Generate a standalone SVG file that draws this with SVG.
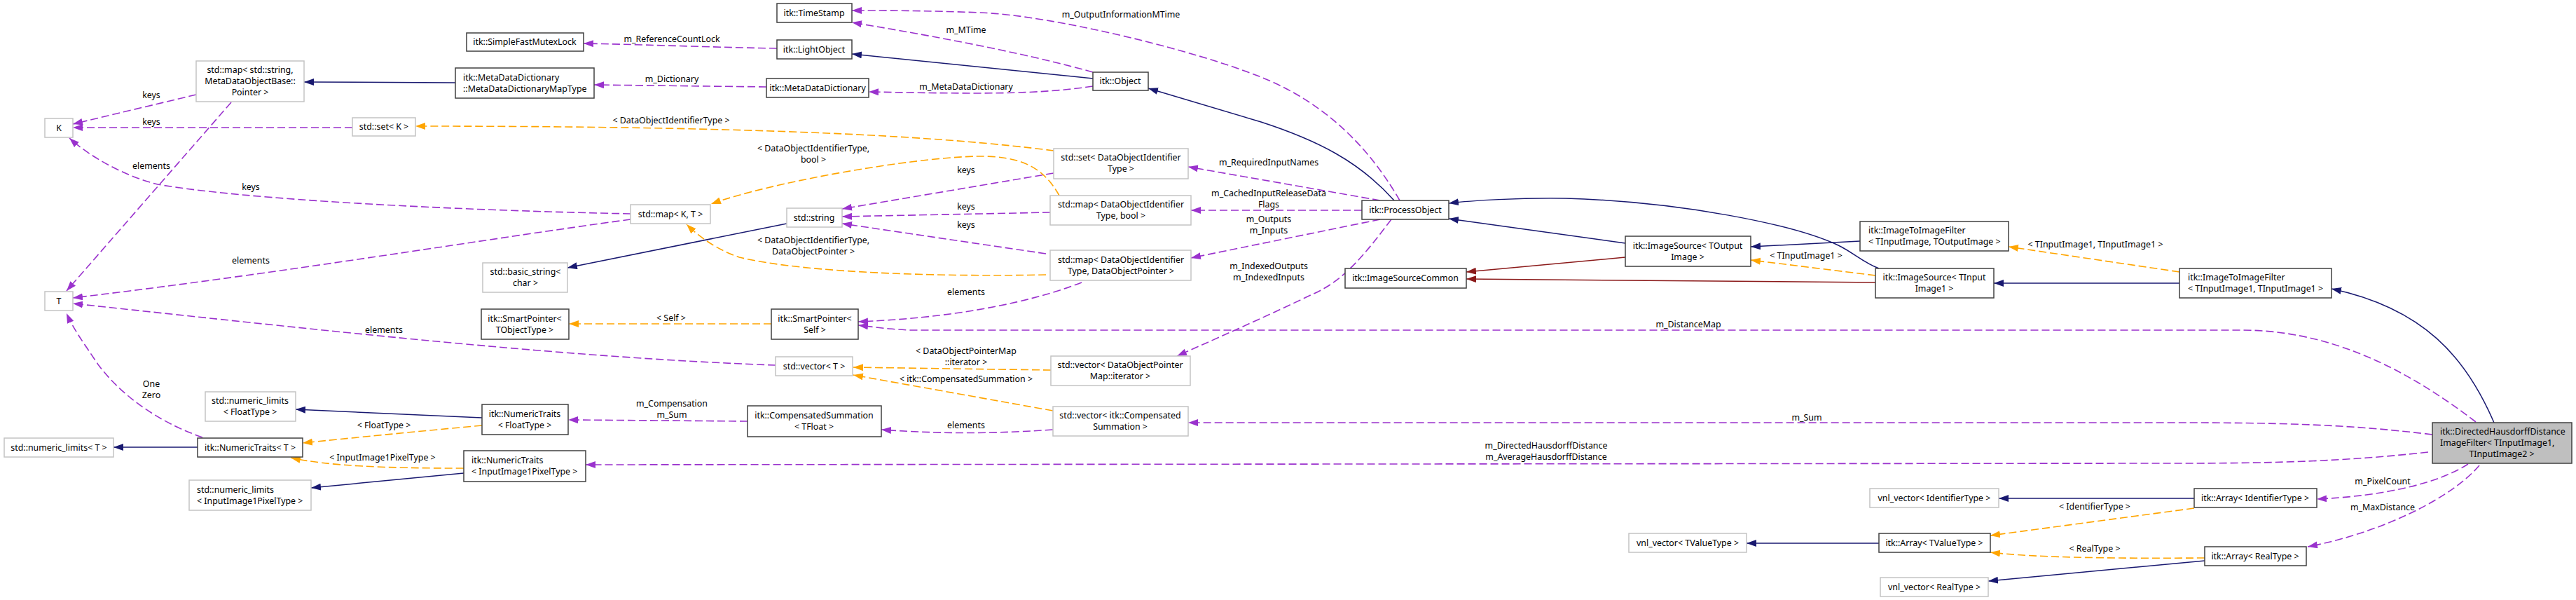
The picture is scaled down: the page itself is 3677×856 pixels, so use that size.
<svg xmlns="http://www.w3.org/2000/svg" width="3677" height="856" viewBox="0 0 3677 856">
<style>
text{font-family:"Noto Sans","Liberation Sans",sans-serif;font-size:12.4px;fill:#000}
.n rect{fill:#fff;stroke:#404040;stroke-width:1.5}
.g rect{fill:#fff;stroke:#c4c4c4;stroke-width:1.5}
.m rect{fill:#bfbfbf;stroke:#404040;stroke-width:1.5}
.c{text-anchor:middle}
.l{text-anchor:middle}
.u{fill:none;stroke:#9a32cd;stroke-width:1.6;stroke-dasharray:11,5;marker-end:url(#ap)}
.o{fill:none;stroke:#ffa500;stroke-width:1.6;stroke-dasharray:11,5;marker-end:url(#ao)}
.b{fill:none;stroke:#191970;stroke-width:1.5;marker-end:url(#ab)}
.r{fill:none;stroke:#8b1a1a;stroke-width:1.5;marker-end:url(#ar)}
</style>
<defs>
<marker id="ap" markerUnits="userSpaceOnUse" markerWidth="15" markerHeight="11" refX="14" refY="5" orient="auto"><path d="M0,0 L14,5 L0,10 z" fill="#9a32cd"/></marker>
<marker id="ao" markerUnits="userSpaceOnUse" markerWidth="15" markerHeight="11" refX="14" refY="5" orient="auto"><path d="M0,0 L14,5 L0,10 z" fill="#ffa500"/></marker>
<marker id="ab" markerUnits="userSpaceOnUse" markerWidth="15" markerHeight="11" refX="14" refY="5" orient="auto"><path d="M0,0 L14,5 L0,10 z" fill="#191970"/></marker>
<marker id="ar" markerUnits="userSpaceOnUse" markerWidth="15" markerHeight="11" refX="14" refY="5" orient="auto"><path d="M0,0 L14,5 L0,10 z" fill="#8b1a1a"/></marker>
</defs>
<rect width="3677" height="856" fill="#fff"/>

<g id="edges">
<!-- usage (purple) -->
<path class="u" d="M1109,69 C1000,67 900,63 833,62"/>
<path class="u" d="M1094,124 L848,121"/>
<path class="u" d="M1560,103 C1450,72 1300,46 1216,32"/>
<path class="u" d="M1998,286 C1960,220 1900,150 1800,110 C1700,70 1500,22 1400,18 C1320,15 1260,15 1216,15"/>
<path class="u" d="M1560,123 C1480,135 1400,134 1240,131"/>
<path class="u" d="M503,182 L104,182"/>
<path class="u" d="M280,135 L104,177"/>
<path class="u" d="M330,146 L95,415"/>
<path class="u" d="M900,305 C650,300 350,285 225,263 C180,252 130,225 99,197"/>
<path class="u" d="M900,313 C700,340 400,390 104,425"/>
<path class="u" d="M1107,521 C800,510 450,470 104,433"/>
<path class="u" d="M1504,247 L1202,298"/>
<path class="u" d="M1499,303 L1202,309"/>
<path class="u" d="M1493,362 L1202,319"/>
<path class="u" d="M1544,403 C1500,420 1400,452 1225,459"/>
<path class="u" d="M1970,286 L1696,238"/>
<path class="u" d="M1944,300 L1700,300"/>
<path class="u" d="M1970,313 L1700,368"/>
<path class="u" d="M1986,313 C1950,360 1920,400 1873,420 C1800,455 1720,490 1680,508"/>
<path class="u" d="M3534,602 C3440,530 3330,471 3200,471 L1300,471 C1270,470 1245,466 1225,464"/>
<path class="u" d="M1067,601 L811,599"/>
<path class="u" d="M1503,613 C1400,620 1330,618 1258,613"/>
<path class="u" d="M3472,620 C3350,605 3250,603 3100,603 L1696,603"/>
<path class="u" d="M3466,645 C3350,658 3250,661 3100,661 L836,663"/>
<path class="u" d="M3523,662 C3480,690 3400,708 3307,712"/>
<path class="u" d="M3539,664 C3500,710 3400,760 3294,780"/>
<path class="u" d="M289,624 C220,600 170,560 140,520 C120,490 105,470 95,447"/>
<!-- template (orange) -->
<path class="o" d="M1504,215 C1350,195 1100,180 593,180"/>
<path class="o" d="M1512,279 C1490,240 1460,222 1394,223 C1300,225 1100,260 1015,291"/>
<path class="o" d="M1493,392 C1350,395 1150,390 1055,367 C1020,355 995,335 980,320"/>
<path class="o" d="M1101,462 L812,462"/>
<path class="o" d="M1500,528 L1218,524"/>
<path class="o" d="M1503,586 L1218,535"/>
<path class="o" d="M688,607 C600,615 500,625 432,632"/>
<path class="o" d="M662,668 C550,668 470,665 415,653"/>
<path class="o" d="M2677,393 L2499,371"/>
<path class="o" d="M3111,388 L2867,352"/>
<path class="o" d="M3132,725 L2841,764"/>
<path class="o" d="M3147,796 C3000,797 2900,795 2841,788"/>
<!-- inheritance (navy) -->
<path class="b" d="M650,118 L434,117"/>
<path class="b" d="M1560,112 L1216,77"/>
<path class="b" d="M1990,286 C1940,230 1880,200 1800,174 L1639,126"/>
<path class="b" d="M1123,319 L810,382"/>
<path class="b" d="M2320,347 L2068,312"/>
<path class="b" d="M2655,344 L2499,352"/>
<path class="b" d="M2682,383 C2660,375 2645,360 2624,350 C2560,320 2400,288 2235,283 C2170,282 2100,286 2068,290"/>
<path class="b" d="M3111,404 L2846,404"/>
<path class="b" d="M3560,603 C3520,510 3460,440 3328,412"/>
<path class="b" d="M282,638 L162,638"/>
<path class="b" d="M688,596 L422,584"/>
<path class="b" d="M662,675 L444,696"/>
<path class="b" d="M3132,711 L2853,711"/>
<path class="b" d="M2682,775 L2493,775"/>
<path class="b" d="M3147,800 L2838,829"/>
<!-- red -->
<path class="r" d="M2320,367 L2093,388"/>
<path class="r" d="M2677,403 L2093,398"/>
</g>

<g id="edge-labels">
<text class="l" x="959" y="60">m_ReferenceCountLock</text>
<text class="l" x="959" y="117">m_Dictionary</text>
<text class="l" x="1379" y="47">m_MTime</text>
<text class="l" x="1600" y="25">m_OutputInformationMTime</text>
<text class="l" x="1379" y="128">m_MetaDataDictionary</text>
<text class="l" x="216" y="140">keys</text>
<text class="l" x="216" y="178">keys</text>
<text class="l" x="216" y="241">elements</text>
<text class="l" x="358" y="271">keys</text>
<text class="l" x="358" y="376">elements</text>
<text class="l" x="548" y="475">elements</text>
<text class="l" x="216" y="552">One</text>
<text class="l" x="216" y="568">Zero</text>
<text class="l" x="958" y="176">&lt; DataObjectIdentifierType &gt;</text>
<text class="l" x="1161" y="216">&lt; DataObjectIdentifierType,</text>
<text class="l" x="1161" y="232">bool &gt;</text>
<text class="l" x="1161" y="347">&lt; DataObjectIdentifierType,</text>
<text class="l" x="1161" y="363">DataObjectPointer &gt;</text>
<text class="l" x="1379" y="247">keys</text>
<text class="l" x="1379" y="299">keys</text>
<text class="l" x="1379" y="325">keys</text>
<text class="l" x="1379" y="421">elements</text>
<text class="l" x="1811" y="236">m_RequiredInputNames</text>
<text class="l" x="1811" y="280">m_CachedInputReleaseData</text>
<text class="l" x="1811" y="296">Flags</text>
<text class="l" x="1811" y="317">m_Outputs</text>
<text class="l" x="1811" y="333">m_Inputs</text>
<text class="l" x="1811" y="384">m_IndexedOutputs</text>
<text class="l" x="1811" y="400">m_IndexedInputs</text>
<text class="l" x="958" y="458">&lt; Self &gt;</text>
<text class="l" x="2410" y="467">m_DistanceMap</text>
<text class="l" x="1379" y="505">&lt; DataObjectPointerMap</text>
<text class="l" x="1379" y="521">::iterator &gt;</text>
<text class="l" x="1379" y="545">&lt; itk::CompensatedSummation &gt;</text>
<text class="l" x="959" y="580">m_Compensation</text>
<text class="l" x="959" y="596">m_Sum</text>
<text class="l" x="1379" y="611">elements</text>
<text class="l" x="2579" y="600">m_Sum</text>
<text class="l" x="548" y="611">&lt; FloatType &gt;</text>
<text class="l" x="546" y="657">&lt; InputImage1PixelType &gt;</text>
<text class="l" x="2207" y="640">m_DirectedHausdorffDistance</text>
<text class="l" x="2207" y="656">m_AverageHausdorffDistance</text>
<text class="l" x="2578" y="369">&lt; TInputImage1 &gt;</text>
<text class="l" x="2991" y="353">&lt; TInputImage1, TInputImage1 &gt;</text>
<text class="l" x="3401" y="691">m_PixelCount</text>
<text class="l" x="3401" y="728">m_MaxDistance</text>
<text class="l" x="2990" y="727">&lt; IdentifierType &gt;</text>
<text class="l" x="2990" y="787">&lt; RealType &gt;</text>
</g>

<g id="n_map_string_meta" class="g"><rect x="280" y="87" width="154" height="58"/><text class="c" x="357" y="104">std::map&lt; std::string,</text><text class="c" x="357" y="120">MetaDataObjectBase::</text><text class="c" x="357" y="136">Pointer &gt;</text></g>
<g id="n_K" class="g"><rect x="64" y="169" width="40" height="27"/><text class="c" x="84" y="187">K</text></g>
<g id="n_set_K" class="g"><rect x="503" y="168" width="90" height="26"/><text class="c" x="548" y="185">std::set&lt; K &gt;</text></g>
<g id="n_T" class="g"><rect x="64" y="416" width="40" height="27"/><text class="c" x="84" y="434">T</text></g>
<g id="n_TimeStamp" class="n"><rect x="1109" y="5" width="107" height="27"/><text class="c" x="1162" y="23">itk::TimeStamp</text></g>
<g id="n_Mutex" class="n"><rect x="666" y="47" width="167" height="26"/><text class="c" x="749" y="64">itk::SimpleFastMutexLock</text></g>
<g id="n_LightObject" class="n"><rect x="1109" y="57" width="107" height="27"/><text class="c" x="1162" y="75">itk::LightObject</text></g>
<g id="n_MapType" class="n"><rect x="650" y="97" width="198" height="43"/><text x="661" y="115">itk::MetaDataDictionary</text><text x="661" y="131">::MetaDataDictionaryMapType</text></g>
<g id="n_MetaDataDictionary" class="n"><rect x="1094" y="112" width="146" height="27"/><text class="c" x="1167" y="130">itk::MetaDataDictionary</text></g>
<g id="n_map_KT" class="g"><rect x="900" y="292" width="114" height="27"/><text class="c" x="957" y="310">std::map&lt; K, T &gt;</text></g>
<g id="n_string" class="g"><rect x="1123" y="297" width="79" height="27"/><text class="c" x="1162" y="315">std::string</text></g>
<g id="n_basic_string" class="g"><rect x="689" y="375" width="121" height="42"/><text class="c" x="750" y="392">std::basic_string&lt;</text><text class="c" x="750" y="408">char &gt;</text></g>
<g id="n_Object" class="n"><rect x="1560" y="103" width="79" height="26"/><text class="c" x="1599" y="120">itk::Object</text></g>
<g id="n_set_DOIT" class="g"><rect x="1504" y="212" width="192" height="43"/><text class="c" x="1600" y="229">std::set&lt; DataObjectIdentifier</text><text class="c" x="1600" y="245">Type &gt;</text></g>
<g id="n_map_bool" class="g"><rect x="1499" y="279" width="201" height="42"/><text class="c" x="1600" y="296">std::map&lt; DataObjectIdentifier</text><text class="c" x="1600" y="312">Type, bool &gt;</text></g>
<g id="n_map_DOP" class="g"><rect x="1499" y="357" width="201" height="43"/><text class="c" x="1600" y="375">std::map&lt; DataObjectIdentifier</text><text class="c" x="1600" y="391">Type, DataObjectPointer &gt;</text></g>
<g id="n_ProcessObject" class="n"><rect x="1944" y="286" width="124" height="27"/><text class="c" x="2006" y="304">itk::ProcessObject</text></g>
<g id="n_ImageSourceCommon" class="n"><rect x="1920" y="383" width="173" height="28"/><text class="c" x="2006" y="401">itk::ImageSourceCommon</text></g>
<g id="n_ImageSource_TOutput" class="n"><rect x="2320" y="337" width="179" height="43"/><text class="c" x="2409" y="355">itk::ImageSource&lt; TOutput</text><text class="c" x="2409" y="371">Image &gt;</text></g>
<g id="n_I2I_TI_TO" class="n"><rect x="2655" y="316" width="212" height="42"/><text x="2667" y="333">itk::ImageToImageFilter</text><text x="2667" y="349">&lt; TInputImage, TOutputImage &gt;</text></g>
<g id="n_ImageSource_TI1" class="n"><rect x="2677" y="383" width="169" height="42"/><text class="c" x="2761" y="400">itk::ImageSource&lt; TInput</text><text class="c" x="2761" y="416">Image1 &gt;</text></g>
<g id="n_I2I_TI1_TI1" class="n"><rect x="3111" y="383" width="217" height="42"/><text x="3123" y="400">itk::ImageToImageFilter</text><text x="3123" y="416">&lt; TInputImage1, TInputImage1 &gt;</text></g>
<g id="n_nl_FloatType" class="g"><rect x="293" y="559" width="129" height="42"/><text class="c" x="357" y="576">std::numeric_limits</text><text class="c" x="357" y="592">&lt; FloatType &gt;</text></g>
<g id="n_nl_T" class="g"><rect x="6" y="625" width="156" height="27"/><text class="c" x="84" y="643">std::numeric_limits&lt; T &gt;</text></g>
<g id="n_NT_T" class="n"><rect x="282" y="625" width="150" height="27"/><text class="c" x="357" y="643">itk::NumericTraits&lt; T &gt;</text></g>
<g id="n_nl_IPT" class="g"><rect x="270" y="685" width="174" height="43"/><text x="281" y="703">std::numeric_limits</text><text x="281" y="719">&lt; InputImage1PixelType &gt;</text></g>
<g id="n_SP_TObject" class="n"><rect x="687" y="441" width="125" height="43"/><text class="c" x="749" y="459">itk::SmartPointer&lt;</text><text class="c" x="749" y="475">TObjectType &gt;</text></g>
<g id="n_SP_Self" class="n"><rect x="1101" y="441" width="124" height="43"/><text class="c" x="1163" y="459">itk::SmartPointer&lt;</text><text class="c" x="1163" y="475">Self &gt;</text></g>
<g id="n_vector_T" class="g"><rect x="1107" y="509" width="110" height="27"/><text class="c" x="1162" y="527">std::vector&lt; T &gt;</text></g>
<g id="n_NT_Float" class="n"><rect x="688" y="577" width="123" height="43"/><text class="c" x="749" y="595">itk::NumericTraits</text><text class="c" x="749" y="611">&lt; FloatType &gt;</text></g>
<g id="n_CompSum" class="n"><rect x="1067" y="579" width="191" height="44"/><text class="c" x="1162" y="597">itk::CompensatedSummation</text><text class="c" x="1162" y="613">&lt; TFloat &gt;</text></g>
<g id="n_NT_IPT" class="n"><rect x="662" y="643" width="174" height="44"/><text x="673" y="661">itk::NumericTraits</text><text x="673" y="677">&lt; InputImage1PixelType &gt;</text></g>
<g id="n_vector_DOPMap" class="g"><rect x="1500" y="508" width="199" height="42"/><text class="c" x="1599" y="525">std::vector&lt; DataObjectPointer</text><text class="c" x="1599" y="541">Map::iterator &gt;</text></g>
<g id="n_vector_Comp" class="g"><rect x="1503" y="580" width="193" height="42"/><text class="c" x="1599" y="597">std::vector&lt; itk::Compensated</text><text class="c" x="1599" y="613">Summation &gt;</text></g>
<g id="n_vnl_TValue" class="g"><rect x="2325" y="761" width="168" height="27"/><text class="c" x="2409" y="779">vnl_vector&lt; TValueType &gt;</text></g>
<g id="n_vnl_Identifier" class="g"><rect x="2669" y="697" width="184" height="27"/><text class="c" x="2761" y="715">vnl_vector&lt; IdentifierType &gt;</text></g>
<g id="n_Array_TValue" class="n"><rect x="2682" y="761" width="159" height="27"/><text class="c" x="2761" y="779">itk::Array&lt; TValueType &gt;</text></g>
<g id="n_vnl_Real" class="g"><rect x="2684" y="824" width="154" height="27"/><text class="c" x="2761" y="842">vnl_vector&lt; RealType &gt;</text></g>
<g id="n_DirectedHausdorff" class="m"><rect x="3472" y="603" width="199" height="58"/><text x="3483" y="620">itk::DirectedHausdorffDistance</text><text x="3483" y="636">ImageFilter&lt; TInputImage1,</text><text class="c" x="3571" y="652">TInputImage2 &gt;</text></g>
<g id="n_Array_Identifier" class="n"><rect x="3132" y="697" width="175" height="27"/><text class="c" x="3219" y="715">itk::Array&lt; IdentifierType &gt;</text></g>
<g id="n_Array_Real" class="n"><rect x="3147" y="780" width="145" height="27"/><text class="c" x="3219" y="798">itk::Array&lt; RealType &gt;</text></g>
</svg>
